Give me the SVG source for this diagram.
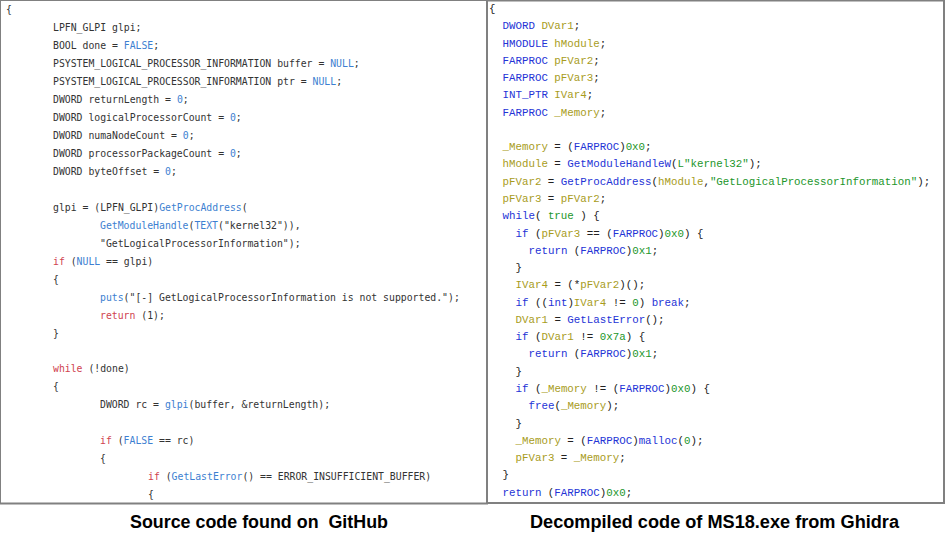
<svg xmlns="http://www.w3.org/2000/svg" width="946" height="538" viewBox="0 0 946 538">
<style>
.l{font-family:"DejaVu Sans Mono","Liberation Mono",monospace;font-size:9.8px;fill:#333333;white-space:pre}
.r{font-family:"Liberation Mono","Courier New",monospace;font-size:10.8px;fill:#222222;white-space:pre}
.kw{fill:#d0434f}
.bl{fill:#3d7fd1}
.t{fill:#2433d6}
.v{fill:#a89c1c}
.g{fill:#22962a}
.cap{font-family:"Liberation Sans",Arial,sans-serif;font-size:18px;font-weight:bold;fill:#000;white-space:pre}
.frame{fill:none;stroke:#808080}
</style>
<rect width="946" height="538" fill="#ffffff"/>
<g id="left-panel">
<rect class="frame" x="0.5" y="0.5" width="487" height="503" stroke-width="1"/>
<line x1="0" y1="503.5" x2="488" y2="503.5" stroke="#808080" stroke-width="2"/>
<g xml:space="preserve">
<text class="l" x="6" y="13">{</text>
<text class="l" x="53" y="31">LPFN_GLPI glpi;</text>
<text class="l" x="53" y="49">BOOL done = <tspan class="bl">FALSE</tspan>;</text>
<text class="l" x="53" y="67">PSYSTEM_LOGICAL_PROCESSOR_INFORMATION buffer = <tspan class="bl">NULL</tspan>;</text>
<text class="l" x="53" y="85">PSYSTEM_LOGICAL_PROCESSOR_INFORMATION ptr = <tspan class="bl">NULL</tspan>;</text>
<text class="l" x="53" y="103">DWORD returnLength = <tspan class="bl">0</tspan>;</text>
<text class="l" x="53" y="121">DWORD logicalProcessorCount = <tspan class="bl">0</tspan>;</text>
<text class="l" x="53" y="139">DWORD numaNodeCount = <tspan class="bl">0</tspan>;</text>
<text class="l" x="53" y="157">DWORD processorPackageCount = <tspan class="bl">0</tspan>;</text>
<text class="l" x="53" y="175">DWORD byteOffset = <tspan class="bl">0</tspan>;</text>
<text class="l" x="53" y="211">glpi = (LPFN_GLPI)<tspan class="bl">GetProcAddress</tspan>(</text>
<text class="l" x="100" y="229"><tspan class="bl">GetModuleHandle</tspan>(<tspan class="bl">TEXT</tspan>("kernel32")),</text>
<text class="l" x="100" y="247">"GetLogicalProcessorInformation");</text>
<text class="l" x="53" y="265"><tspan class="kw">if</tspan> (<tspan class="bl">NULL</tspan> == glpi)</text>
<text class="l" x="53" y="283">{</text>
<text class="l" x="100" y="301"><tspan class="bl">puts</tspan>("[-] GetLogicalProcessorInformation is not supported.");</text>
<text class="l" x="100" y="319"><tspan class="kw">return</tspan> (1);</text>
<text class="l" x="53" y="337">}</text>
<text class="l" x="53" y="372"><tspan class="kw">while</tspan> (!done)</text>
<text class="l" x="53" y="390">{</text>
<text class="l" x="100" y="408">DWORD rc = <tspan class="bl">glpi</tspan>(buffer, &amp;returnLength);</text>
<text class="l" x="100" y="444"><tspan class="kw">if</tspan> (<tspan class="bl">FALSE</tspan> == rc)</text>
<text class="l" x="100" y="462">{</text>
<text class="l" x="148" y="480"><tspan class="kw">if</tspan> (<tspan class="bl">GetLastError</tspan>() == ERROR_INSUFFICIENT_BUFFER)</text>
<text class="l" x="148" y="498">{</text>
</g>
</g>
<g id="right-panel">
<rect class="frame" x="487" y="0.5" width="457" height="502.5" stroke-width="2"/>
<g xml:space="preserve">
<text class="r" x="489" y="12">{</text>
<text class="r" x="502.5" y="29.3"><tspan class="t">DWORD</tspan> <tspan class="v">DVar1</tspan>;</text>
<text class="r" x="502.5" y="46.5"><tspan class="t">HMODULE</tspan> <tspan class="v">hModule</tspan>;</text>
<text class="r" x="502.5" y="63.8"><tspan class="t">FARPROC</tspan> <tspan class="v">pFVar2</tspan>;</text>
<text class="r" x="502.5" y="81.1"><tspan class="t">FARPROC</tspan> <tspan class="v">pFVar3</tspan>;</text>
<text class="r" x="502.5" y="98.4"><tspan class="t">INT_PTR</tspan> <tspan class="v">IVar4</tspan>;</text>
<text class="r" x="502.5" y="115.6"><tspan class="t">FARPROC</tspan> <tspan class="v">_Memory</tspan>;</text>
<text class="r" x="502.5" y="150.2"><tspan class="v">_Memory</tspan> = (<tspan class="t">FARPROC</tspan>)<tspan class="g">0x0</tspan>;</text>
<text class="r" x="502.5" y="167.4"><tspan class="v">hModule</tspan> = <tspan class="t">GetModuleHandleW</tspan>(<tspan class="g">L"kernel32"</tspan>);</text>
<text class="r" x="502.5" y="184.7"><tspan class="v">pFVar2</tspan> = <tspan class="t">GetProcAddress</tspan>(<tspan class="v">hModule</tspan>,<tspan class="g">"GetLogicalProcessorInformation"</tspan>);</text>
<text class="r" x="502.5" y="202"><tspan class="v">pFVar3</tspan> = <tspan class="v">pFVar2</tspan>;</text>
<text class="r" x="502.5" y="219.2"><tspan class="t">while</tspan>( <tspan class="g">true</tspan> ) {</text>
<text class="r" x="515.5" y="236.5"><tspan class="t">if</tspan> (<tspan class="v">pFVar3</tspan> == (<tspan class="t">FARPROC</tspan>)<tspan class="g">0x0</tspan>) {</text>
<text class="r" x="528.5" y="253.8"><tspan class="t">return</tspan> (<tspan class="t">FARPROC</tspan>)<tspan class="g">0x1</tspan>;</text>
<text class="r" x="515.5" y="271">}</text>
<text class="r" x="515.5" y="288.3"><tspan class="v">IVar4</tspan> = (*<tspan class="v">pFVar2</tspan>)();</text>
<text class="r" x="515.5" y="305.6"><tspan class="t">if</tspan> ((<tspan class="t">int</tspan>)<tspan class="v">IVar4</tspan> != <tspan class="g">0</tspan>) <tspan class="t">break</tspan>;</text>
<text class="r" x="515.5" y="322.9"><tspan class="v">DVar1</tspan> = <tspan class="t">GetLastError</tspan>();</text>
<text class="r" x="515.5" y="340.1"><tspan class="t">if</tspan> (<tspan class="v">DVar1</tspan> != <tspan class="g">0x7a</tspan>) {</text>
<text class="r" x="528.5" y="357.4"><tspan class="t">return</tspan> (<tspan class="t">FARPROC</tspan>)<tspan class="g">0x1</tspan>;</text>
<text class="r" x="515.5" y="374.7">}</text>
<text class="r" x="515.5" y="391.9"><tspan class="t">if</tspan> (<tspan class="v">_Memory</tspan> != (<tspan class="t">FARPROC</tspan>)<tspan class="g">0x0</tspan>) {</text>
<text class="r" x="528.5" y="409.2"><tspan class="t">free</tspan>(<tspan class="v">_Memory</tspan>);</text>
<text class="r" x="515.5" y="426.5">}</text>
<text class="r" x="515.5" y="443.8"><tspan class="v">_Memory</tspan> = (<tspan class="t">FARPROC</tspan>)<tspan class="t">malloc</tspan>(<tspan class="g">0</tspan>);</text>
<text class="r" x="515.5" y="461"><tspan class="v">pFVar3</tspan> = <tspan class="v">_Memory</tspan>;</text>
<text class="r" x="502.5" y="478.3">}</text>
<text class="r" x="502.5" y="495.6"><tspan class="t">return</tspan> (<tspan class="t">FARPROC</tspan>)<tspan class="g">0x0</tspan>;</text>
</g>
</g>
<g id="captions" xml:space="preserve">
<text class="cap" x="130" y="528" textLength="258" lengthAdjust="spacingAndGlyphs">Source code found on  GitHub</text>
<text class="cap" x="530" y="528" textLength="369" lengthAdjust="spacingAndGlyphs">Decompiled code of MS18.exe from Ghidra</text>
</g>
</svg>
